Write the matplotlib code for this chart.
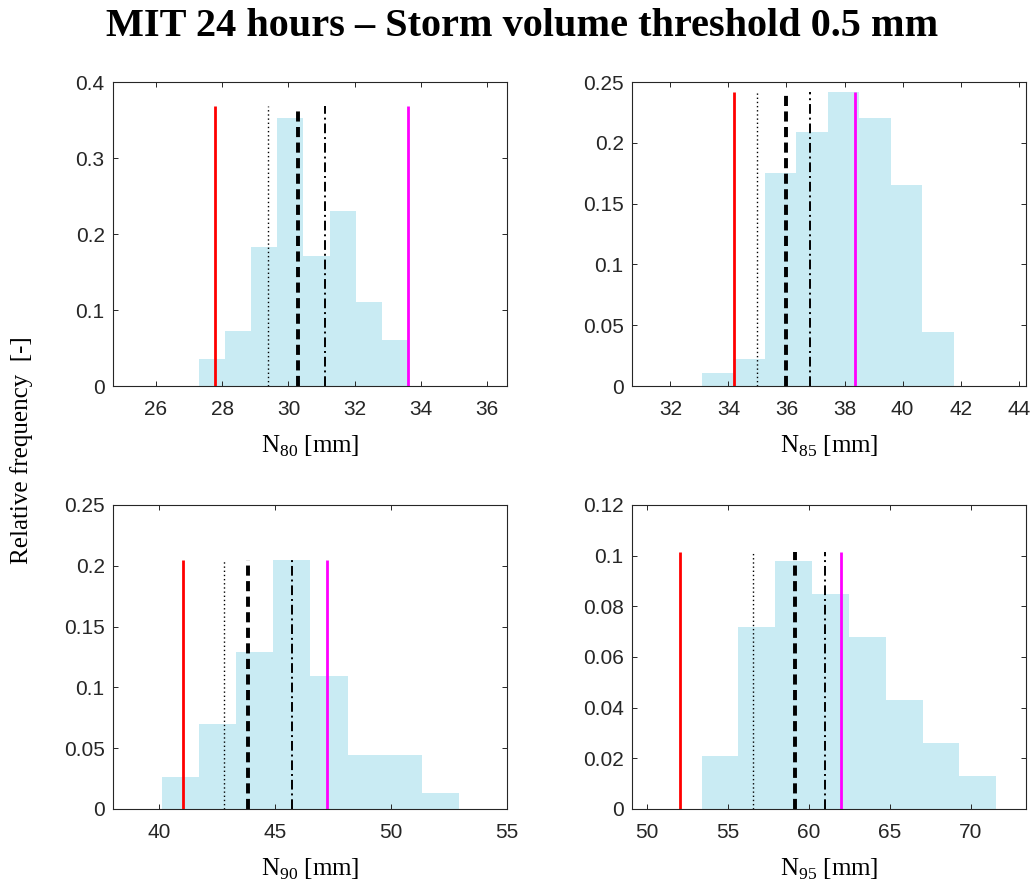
import numpy as np
import matplotlib
matplotlib.use("Agg")
import matplotlib.pyplot as plt
from matplotlib.ticker import FormatStrFormatter

# histogram bin edges and relative frequencies
edges_80 = [27.30, 28.09, 28.88, 29.66, 30.45, 31.24, 32.03, 32.81, 33.60]
freq_80 = [0.036, 0.073, 0.183, 0.353, 0.171, 0.230, 0.110, 0.060]
edges_85 = [33.09, 34.17, 35.26, 36.34, 37.43, 38.51, 39.60, 40.68, 41.77]
freq_85 = [0.011, 0.022, 0.175, 0.209, 0.242, 0.220, 0.165, 0.044]
edges_90 = [40.12, 41.72, 43.32, 44.92, 46.52, 48.12, 49.72, 51.32, 52.92]
freq_90 = [0.026, 0.070, 0.129, 0.205, 0.109, 0.044, 0.044, 0.013]
edges_95 = [53.39, 55.66, 57.93, 60.20, 62.47, 64.74, 67.02, 69.29, 71.56]
freq_95 = [0.021, 0.072, 0.098, 0.085, 0.068, 0.043, 0.026, 0.013]

# reference lines: red, dotted, dashed, dash-dot, magenta
marks_80 = [27.77, 29.38, 30.29, 31.09, 33.62]
marks_85 = [34.18, 35.00, 35.98, 36.82, 38.37]
marks_90 = [41.04, 42.78, 43.84, 45.71, 47.22]
marks_95 = [52.09, 56.57, 59.14, 61.03, 62.00]
tops = [0.368, 0.242, 0.205, 0.1015]

labels = ["N$_{\\mathrm{80}}$ [mm]", "N$_{\\mathrm{85}}$ [mm]",
          "N$_{\\mathrm{90}}$ [mm]", "N$_{\\mathrm{95}}$ [mm]"]
xlims = [(24.7, 36.6), (30.68, 44.25), (38, 55), (49.1, 73.4)]
xticks = [np.arange(26, 37, 2), np.arange(32, 45, 2), np.arange(40, 56, 5), np.arange(50, 71, 5)]
ylims = [0.4, 0.25, 0.25, 0.12]
ysteps = [0.1, 0.05, 0.05, 0.02]

edges = [edges_80, edges_85, edges_90, edges_95]
freqs = [freq_80, freq_85, freq_90, freq_95]
marks = [marks_80, marks_85, marks_90, marks_95]

plt.rcParams["mathtext.fontset"] = "custom"
plt.rcParams["mathtext.rm"] = "Liberation Serif"

W, H = 1032, 884
fig = plt.figure(figsize=(W / 100, H / 100), dpi=100)
serif = "Liberation Serif"
sans = "Liberation Sans"
dark = "#262626"

boxes = [(113, 82), (632, 82), (113, 505), (632, 505)]
aw, ah = 394, 304

for i in range(4):
    x0, y0 = boxes[i]
    ax = fig.add_axes([x0 / W, 1 - (y0 + ah) / H, aw / W, ah / H])
    ax.stairs(freqs[i], edges[i], fill=True, color="#c9ebf3", lw=0)
    m = marks[i]
    t = tops[i]
    ax.vlines(m[0], 0, t, colors="#ff0000", lw=2.0)
    ax.vlines(m[1], 0, t, colors="black", lw=1.0, linestyles=(0, (1, 2)))
    ax.vlines(m[2], 0, t, colors="black", lw=2.8, linestyles=(0, (2.6, 1.4)))
    ax.vlines(m[3], 0, t, colors="black", lw=1.4, linestyles=(0, (5, 2, 1, 2)))
    ax.vlines(m[4], 0, t, colors="#ff00ff", lw=2.0)

    ax.set_xlim(*xlims[i])
    ax.set_ylim(0, ylims[i])
    ax.set_xticks(xticks[i])
    ax.set_yticks(np.arange(0, ylims[i] + 1e-9, ysteps[i]))
    ax.yaxis.set_major_formatter(FormatStrFormatter("%g"))
    ax.tick_params(direction="in", top=True, right=True, length=3.5, width=0.7,
                   colors=dark, labelsize=15, pad=6)
    ax.tick_params(axis="x", pad=10)
    for lab in ax.get_xticklabels() + ax.get_yticklabels():
        lab.set_fontfamily(sans)
    for sp in ax.spines.values():
        sp.set_color(dark)
        sp.set_linewidth(0.8)
    ax.set_xlabel(labels[i], fontsize=18, family=serif, color="black", labelpad=11)

fig.text(522 / W, 1 - 26 / H, "MIT 24 hours \u2013 Storm volume threshold 0.5 mm",
         ha="center", va="center", fontsize=29, fontweight="bold", family=serif)
fig.text(22 / W, 1 - 450 / H, "Relative frequency  [-]", rotation=90,
         ha="center", va="center", fontsize=18, family=serif)

fig.savefig("out.png", dpi=100)
